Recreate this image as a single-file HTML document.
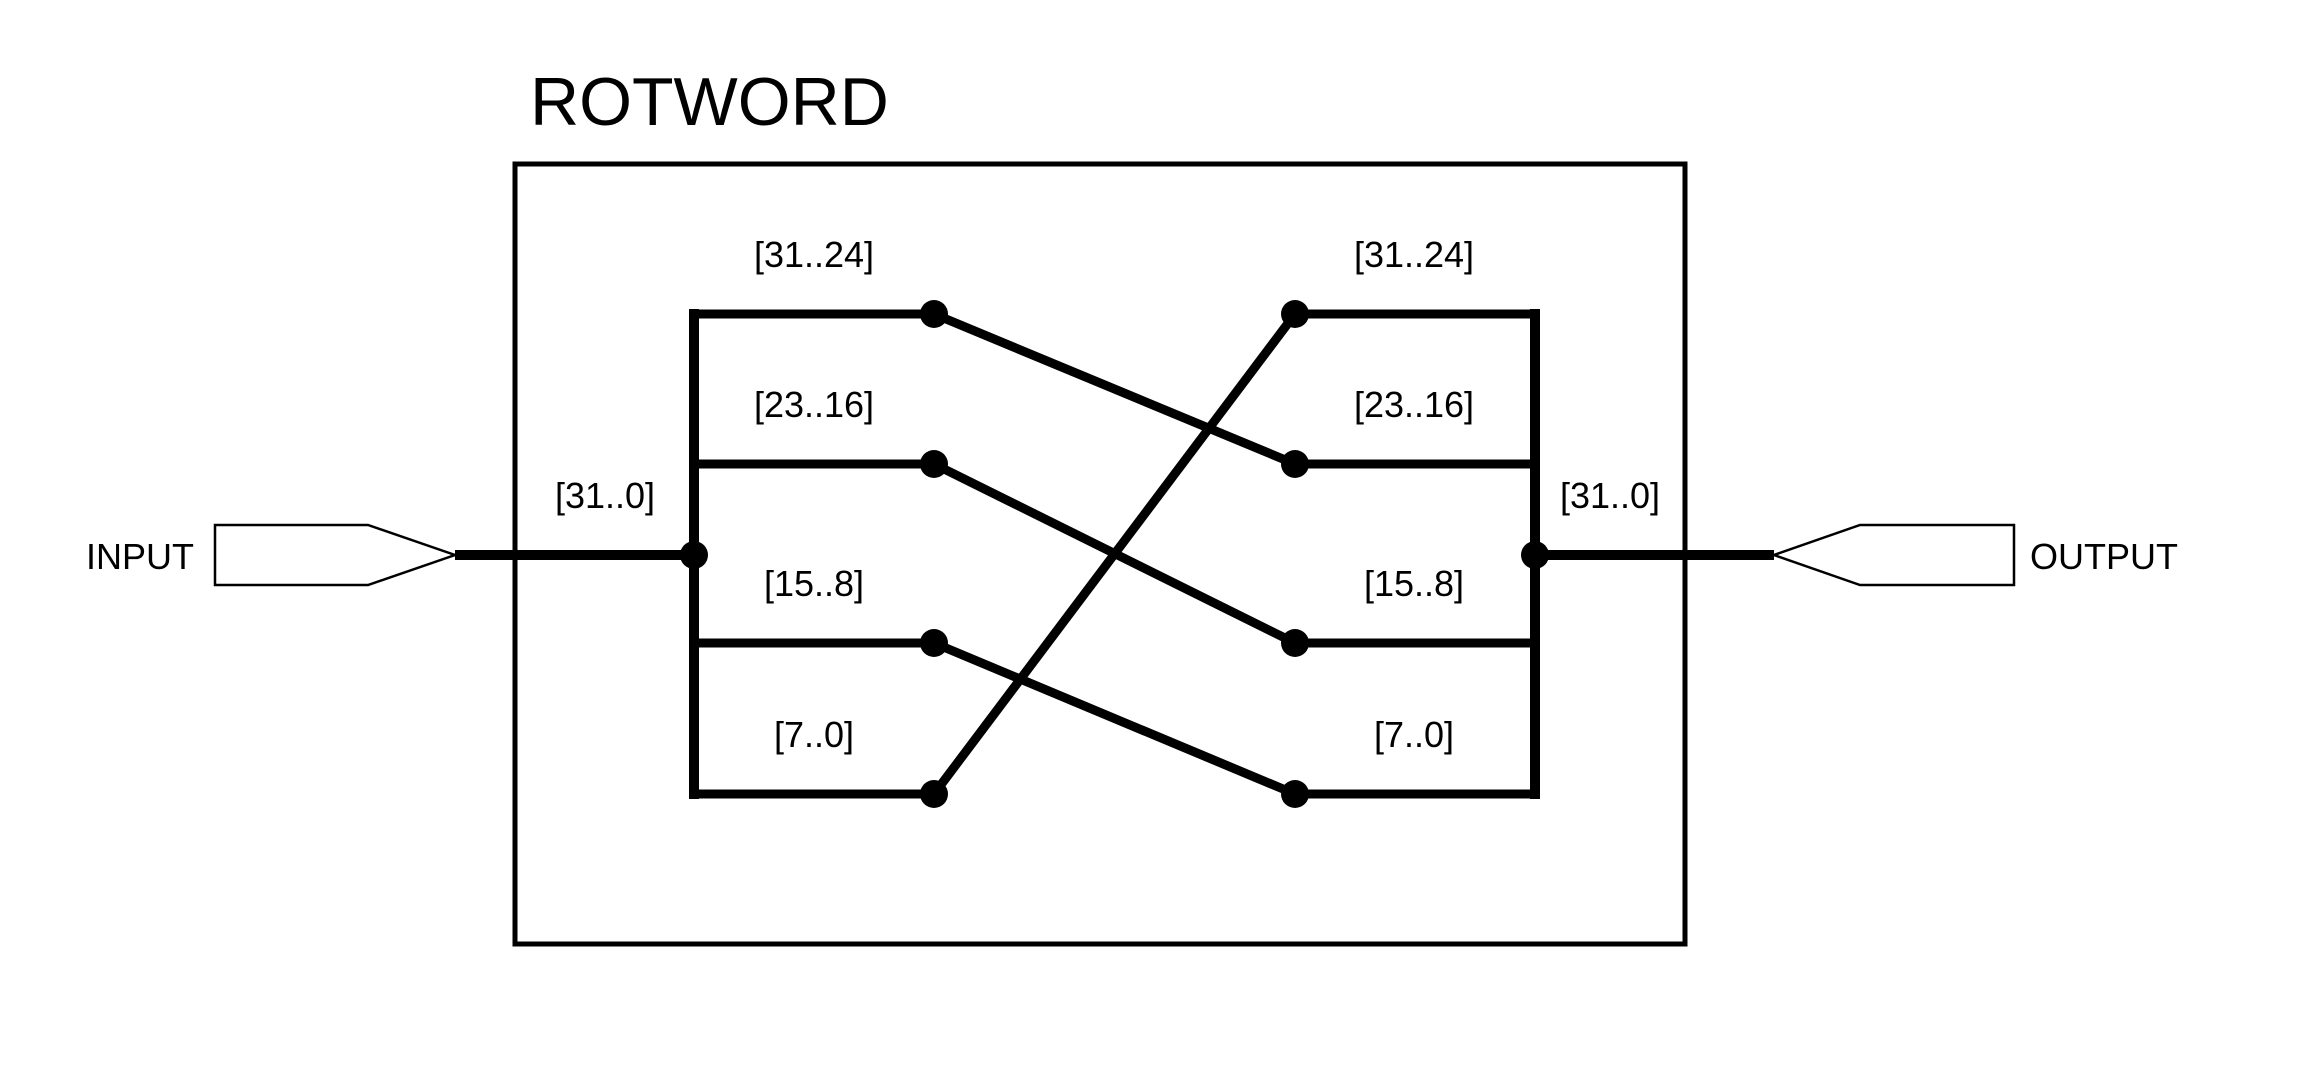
<!DOCTYPE html>
<html><head><meta charset="utf-8"><style>
html,body{margin:0;padding:0;background:#fff;}
svg{display:block;font-family:"Liberation Sans",sans-serif;}
</style></head><body>
<svg id="c" width="2313" height="1065" viewBox="0 0 2313 1065">
<text x="530" y="125" font-size="68">ROTWORD</text>
<rect x="515" y="164" width="1170" height="780" fill="none" stroke="#000" stroke-width="5"/>
<polygon points="215,525 368,525 455,555 368,585 215,585" fill="#fff" stroke="#000" stroke-width="2.5"/>
<text x="86" y="569" font-size="36">INPUT</text>
<polygon points="2014,525 1860,525 1774,555 1860,585 2014,585" fill="#fff" stroke="#000" stroke-width="2.5"/>
<text x="2030" y="569" font-size="36">OUTPUT</text>
<line x1="455" y1="555" x2="694" y2="555" stroke="#000" stroke-width="10"/>
<line x1="1535" y1="555" x2="1774" y2="555" stroke="#000" stroke-width="10"/>
<text x="605" y="508" font-size="36" text-anchor="middle">[31..0]</text>
<text x="1610" y="508" font-size="36" text-anchor="middle">[31..0]</text>
<g id="g"></g>
</svg>
<script>
const labels=["[31..24]","[23..16]","[15..8]","[7..0]"];
const rowY=[314,464,643,794];
const perm=[1,2,3,0];
const busL=694,dotL=934,dotR=1295,busR=1535,midY=555;
const g=document.getElementById('g');
const NS='http://www.w3.org/2000/svg';
function mk(t,a){const e=document.createElementNS(NS,t);for(const k in a)e.setAttribute(k,a[k]);g.appendChild(e);return e;}
let e=mk('line',{x1:busL,y1:rowY[0]-5,x2:busL,y2:rowY[3]+5,stroke:'#000','stroke-width':10});


e=mk('line',{x1:busR,y1:rowY[0]-5,x2:busR,y2:rowY[3]+5,stroke:'#000','stroke-width':10});


labels.forEach((lb,i)=>{
  const y=rowY[i];
  e=mk('line',{x1:busL,y1:y,x2:dotL,y2:y,stroke:'#000','stroke-width':9});
  
  
  e=mk('line',{x1:dotR,y1:y,x2:busR,y2:y,stroke:'#000','stroke-width':9});
  
  
  e=mk('line',{x1:dotL,y1:y,x2:dotR,y2:rowY[perm[i]],stroke:'#000','stroke-width':9});
  
  
  e=mk('text',{x:814,y:y-47,'font-size':36,'text-anchor':'middle'});e.textContent=lb;
  
  
  e=mk('text',{x:1414,y:y-47,'font-size':36,'text-anchor':'middle'});e.textContent=lb;
  
  
});
rowY.forEach(y=>{
  e=mk('circle',{cx:dotL,cy:y,r:14,fill:'#000'});
  
  
  e=mk('circle',{cx:dotR,cy:y,r:14,fill:'#000'});
  
  
});
e=mk('circle',{cx:busL,cy:midY,r:14,fill:'#000'});


e=mk('circle',{cx:busR,cy:midY,r:14,fill:'#000'});


</script>
</body></html>
